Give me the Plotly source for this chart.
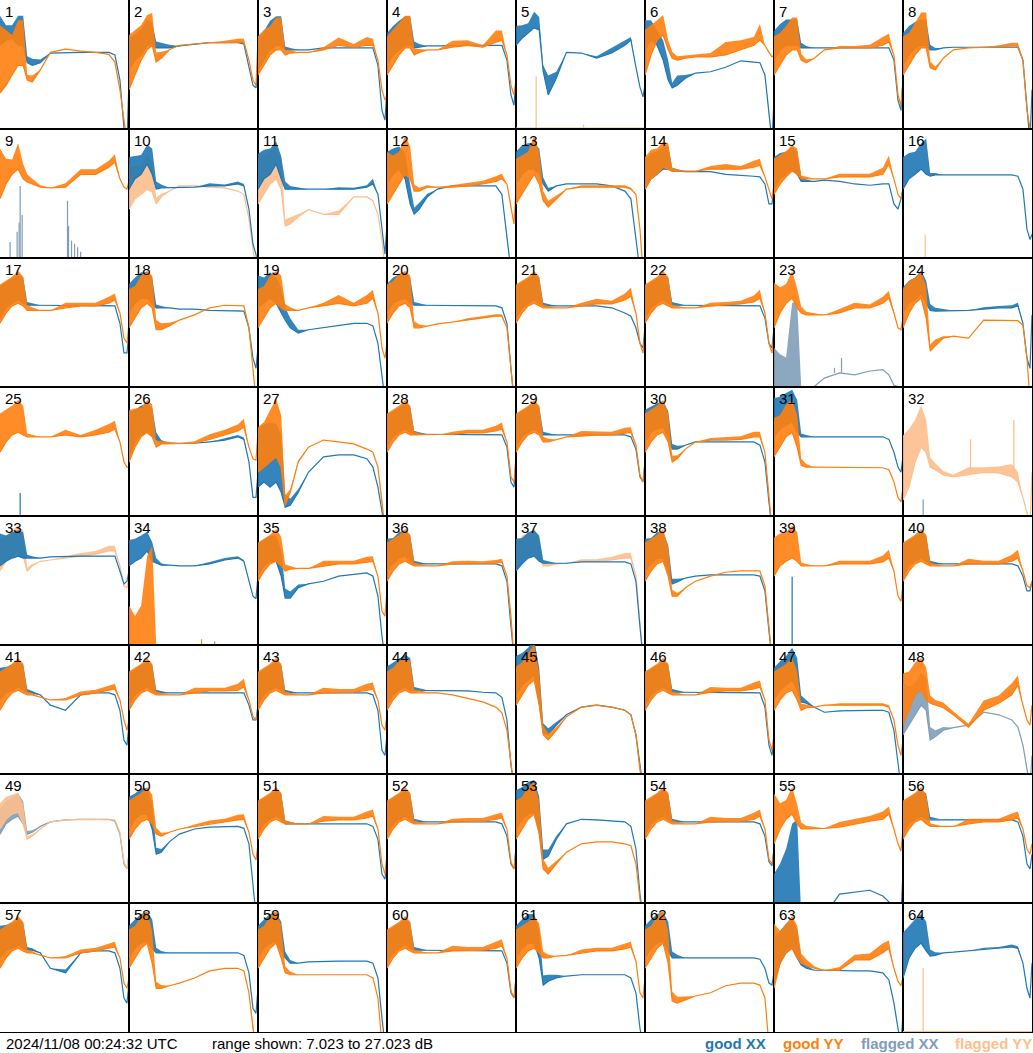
import plotly.graph_objects as go
from plotly.subplots import make_subplots

# ---------------- data ----------------
channel = [0, 6, 12, 18, 23, 27, 32, 40, 50, 65, 80, 95, 108, 114, 119, 123, 126, 128]
flagged_xx = [9, 23, 32, 48, 49]
flagged_yy = [5, 10, 11, 16, 32, 33, 37, 49, 64]
db_min, db_max = 7.023, 27.023
timestamp = "2024/11/08 00:24:32 UTC"
legend_labels = ["good XX", "good YY", "flagged XX", "flagged YY"]

# each curve: level (dB, lower envelope), n = extra height of the noise band (dB), s = spikes (channel, dB)
XX01 = [20.0, 20.8, 21.1, 20.0, 20.0, 17.3, 16.9, 17.3, 18.8, 18.9, 18.9, 18.9, 18.9, 18.5, 14.6, 7.2, 5.0, 14.6]
XX01n = [4.6, 2.3, 2.0, 4.6, 4.6, 1.0, 1.0, 0.5, 0, 0, 0, 0, 0, 0, 0, 0, 0, 0]
YY01 = [12.6, 13.8, 15.4, 16.9, 16.9, 14.6, 14.3, 16.2, 18.9, 19.4, 19.1, 18.9, 18.6, 17.4, 13.1, 7.6, 5.0, 5.0]
YY01n = [10.5, 8.5, 6.2, 7.0, 7.0, 0.8, 1.0, 0, 0, 0, 0, 0, 0, 0, 0, 0, 0, 0]

XX02 = [16.2, 17.7, 18.5, 20.0, 20.0, 19.6, 19.6, 19.6, 19.9, 20.2, 20.4, 20.4, 20.4, 20.2, 16.9, 13.8, 13.4, 16.2]
XX02n = [5.0, 4.0, 4.0, 4.0, 3.5, 1.0, 0.8, 0.5, 0, 0, 0, 0, 0, 0, 0, 0, 0, 0]
YY02 = [13.1, 15.4, 17.7, 19.3, 20.0, 17.4, 18.0, 19.3, 20.0, 20.2, 20.4, 20.4, 20.5, 20.5, 17.7, 14.6, 13.8, 20.8]
YY02n = [8.5, 7.0, 5.4, 5.4, 5.0, 1.5, 1.0, 0, 0, 0, 0, 0.3, 0.5, 0.5, 0, 0, 0, 0]

XX03 = [16.2, 17.7, 19.3, 20.0, 20.0, 19.3, 19.3, 19.3, 19.3, 19.6, 19.6, 19.6, 19.6, 19.6, 16.9, 9.9, 8.4, 13.1]
XX03n = [5.0, 4.5, 4.5, 4.5, 4.5, 0.5, 0.3, 0, 0, 0, 0, 0, 0, 0, 0, 0, 0, 0]
YY03 = [15.4, 16.9, 18.5, 19.3, 19.3, 18.5, 18.8, 18.9, 18.9, 19.3, 20.0, 19.7, 20.0, 20.0, 17.7, 13.1, 11.5, 12.3]
YY03n = [6.0, 5.5, 4.5, 5.0, 5.0, 0.8, 0.5, 0, 0, 0.4, 1.2, 0.5, 1.3, 1.0, 0, 0, 0, 0]

XX04 = [16.9, 18.5, 19.3, 20.0, 20.0, 19.6, 19.7, 19.9, 19.9, 20.0, 20.0, 20.0, 20.0, 20.0, 17.7, 12.3, 10.7, 14.6]
XX04n = [5.0, 4.5, 4.5, 4.5, 4.5, 1.0, 0.5, 0, 0, 0, 0, 0, 0, 0, 0, 0, 0, 0]
YY04 = [15.4, 16.9, 18.5, 19.6, 19.6, 18.5, 18.9, 19.3, 19.3, 19.7, 20.0, 19.7, 20.5, 20.8, 18.5, 13.8, 12.3, 14.6]
YY04n = [6.0, 5.5, 5.0, 5.0, 5.0, 1.0, 0.5, 0, 0, 1.0, 0.8, 0.3, 1.8, 1.5, 0, 0, 0, 0]

XX05 = [20.0, 21.1, 21.9, 22.7, 22.4, 15.9, 12.3, 14.9, 18.9, 18.8, 18.0, 18.8, 20.0, 20.8, 16.6, 13.5, 12.0, 13.8]
XX05n = [3.0, 2.0, 1.5, 2.5, 2.0, 1.0, 3.0, 1.0, 0, 0, 0.3, 0.8, 0.8, 0.5, 0, 0, 0, 0]
YY05 = [7.15, 7.15, 7.15, 7.15, 7.15, 7.15, 7.15, 7.15, 7.15, 7.15, 7.15, 7.15, 7.15, 7.15, 7.15, 7.15, 7.15, 7.15]
YY05n = [0] * 18
YY05s = [(20, 15.2), (67, 7.7)]

XX06 = [19.3, 20.8, 20.0, 17.7, 14.6, 13.4, 13.8, 14.9, 15.7, 15.9, 16.6, 17.6, 17.4, 17.3, 15.4, 9.9, 5.0, 11.5]
XX06n = [4.6, 3.1, 2.3, 3.1, 3.1, 0.8, 1.5, 0.5, 0, 0, 0, 0, 0, 0, 0, 0, 0, 0]
YY06 = [15.4, 18.5, 20.8, 21.6, 19.3, 18.0, 17.7, 18.0, 18.2, 18.2, 18.5, 19.3, 20.0, 20.8, 20.0, 18.9, 18.2, 18.5]
YY06n = [7.0, 4.6, 3.1, 3.1, 1.5, 1.0, 0.6, 0.4, 0.4, 0.6, 2.0, 1.5, 1.3, 2.5, 0, 0, 0, 0]

XX07 = [17.7, 19.3, 20.0, 20.0, 20.0, 19.6, 19.6, 19.6, 19.6, 19.6, 19.6, 19.6, 19.6, 19.6, 17.7, 11.5, 9.9, 14.6]
XX07n = [4.5, 4.0, 4.0, 4.0, 4.0, 0.8, 0.3, 0, 0, 0, 0, 0, 0, 0, 0, 0, 0, 0]
YY07 = [15.4, 16.9, 18.5, 19.3, 19.3, 17.7, 17.3, 18.0, 19.3, 19.6, 19.6, 19.6, 20.0, 20.5, 18.5, 12.3, 10.7, 14.6]
YY07n = [6.0, 5.0, 4.5, 5.0, 5.0, 1.0, 0.5, 0, 0, 0.3, 0.3, 0.5, 1.3, 1.3, 0, 0, 0, 0]

XX08 = [16.9, 18.5, 19.6, 20.0, 20.0, 19.3, 19.3, 19.6, 19.7, 19.7, 19.7, 19.7, 19.7, 19.7, 17.7, 9.9, 5.0, 13.1]
XX08n = [5.0, 4.5, 4.0, 4.0, 4.0, 0.8, 0.3, 0, 0, 0, 0, 0, 0, 0, 0, 0, 0, 0]
YY08 = [15.4, 16.9, 18.5, 19.6, 19.6, 16.5, 16.2, 18.0, 19.3, 19.6, 19.7, 19.7, 19.9, 19.9, 17.7, 9.9, 7.2, 5.0]
YY08n = [6.0, 5.0, 5.0, 5.5, 5.5, 1.0, 0.5, 0, 0, 0, 0, 0.3, 0.5, 0.5, 0, 0, 0, 0]

XX09 = [7.1] * 18
XX09n = [0] * 18
XX09s = [(10, 9.5), (17, 11.1), (19, 12.5), (20, 18.2), (22, 13.7), (67, 15.9), (68, 12.0), (71, 9.7), (74, 9.2), (77, 8.7), (80, 8.0)]
YY09 = [16.2, 18.5, 20.0, 20.8, 19.3, 18.8, 18.5, 18.0, 17.9, 18.0, 20.0, 20.0, 21.1, 21.9, 19.3, 18.0, 17.7, 19.0]
YY09n = [7.8, 3.9, 2.3, 4.0, 2.3, 1.2, 0.8, 0.3, 0, 0.6, 0.8, 0.8, 1.0, 1.2, 0, 0, 0, 0]

XX10 = [17.7, 19.3, 20.0, 21.6, 20.0, 17.7, 17.9, 17.9, 18.0, 18.0, 18.2, 18.2, 18.5, 18.2, 14.6, 9.2, 7.6, 5.0]
XX10n = [5.0, 3.5, 3.0, 3.0, 4.0, 1.2, 0.5, 0, 0, 0, 0.4, 0.2, 0.4, 0.3, 0, 0, 0, 0]
YY10 = [14.6, 16.2, 16.9, 17.7, 17.3, 15.4, 16.5, 17.4, 18.2, 18.2, 18.0, 17.9, 17.4, 16.9, 13.1, 8.4, 5.0, 5.0]
YY10n = [7.0, 5.0, 4.5, 5.5, 4.5, 1.0, 0.5, 0, 0, 0, 0, 0, 0, 0, 0, 0, 0, 0]

XX11 = [17.7, 19.3, 20.0, 21.6, 19.3, 17.7, 17.7, 17.7, 17.7, 17.7, 17.7, 17.7, 18.0, 18.5, 16.9, 11.5, 7.6, 12.3]
XX11n = [5.5, 4.5, 4.0, 3.5, 3.5, 1.2, 0.5, 0.3, 0, 0, 0.3, 0.2, 0.3, 0.8, 0, 0, 0, 0]
YY11 = [15.4, 16.9, 18.5, 19.3, 17.7, 12.0, 12.3, 13.4, 14.5, 13.8, 13.8, 16.5, 16.5, 15.9, 13.8, 9.9, 5.0, 5.0]
YY11n = [7.0, 6.0, 5.0, 5.5, 5.0, 1.0, 1.0, 0.5, 0, 0, 0.6, 0, 0, 0, 0, 0, 0, 0]

XX12 = [18.5, 20.0, 20.8, 19.3, 15.4, 13.8, 14.6, 16.5, 17.7, 18.2, 18.2, 18.2, 18.2, 16.9, 9.9, 5.0, 5.0, 5.0]
XX12n = [5.0, 4.0, 3.5, 4.0, 3.0, 1.0, 1.0, 0.5, 0, 0, 0, 0, 0, 0, 0, 0, 0, 0]
YY12 = [15.4, 16.9, 18.5, 20.0, 19.3, 17.4, 17.4, 18.0, 18.0, 18.0, 18.2, 18.5, 18.9, 19.3, 18.5, 14.6, 12.3, 17.7]
YY12n = [8.0, 6.0, 5.0, 6.0, 5.0, 1.0, 0.5, 0.3, 0, 0.3, 0.5, 0.5, 0.8, 0.8, 0, 0, 0, 0]

XX13 = [18.5, 20.0, 20.8, 20.8, 20.0, 18.5, 17.4, 18.2, 18.5, 18.5, 18.5, 18.2, 17.4, 16.2, 9.9, 5.0, 5.0, 5.0]
XX13n = [5.0, 4.5, 4.0, 4.0, 4.0, 1.0, 0.5, 0, 0, 0, 0, 0, 0, 0, 0, 0, 0, 0]
YY13 = [15.4, 16.9, 18.5, 20.0, 18.5, 15.9, 14.9, 16.2, 17.7, 18.0, 18.0, 18.0, 18.0, 17.7, 16.9, 11.5, 5.0, 5.0]
YY13n = [7.0, 6.0, 5.0, 6.0, 5.0, 1.5, 1.0, 0.5, 0, 0.3, 0.3, 0.3, 0.3, 0.2, 0, 0, 0, 0]

XX14 = [17.7, 19.3, 20.0, 20.8, 20.8, 20.5, 20.5, 20.4, 20.4, 20.4, 20.0, 19.9, 19.7, 19.6, 18.5, 15.4, 15.4, 17.7]
XX14n = [4.5, 4.0, 3.5, 3.5, 3.5, 0.5, 0.3, 0, 0, 0, 0, 0, 0, 0, 0, 0, 0, 0]
YY14 = [17.7, 19.3, 20.0, 21.1, 20.8, 20.5, 20.5, 20.5, 20.5, 20.8, 20.8, 20.8, 21.1, 21.4, 19.6, 17.7, 16.2, 18.5]
YY14n = [5.0, 4.5, 4.0, 4.0, 4.0, 0.5, 0.3, 0, 0, 0.5, 0.8, 0.5, 1.0, 1.0, 0, 0, 0, 0]

XX15 = [17.7, 19.3, 20.0, 20.8, 20.0, 18.9, 18.9, 18.9, 19.1, 18.9, 18.5, 18.3, 18.5, 18.5, 15.4, 14.6, 16.2, 17.7]
XX15n = [5.0, 4.0, 3.5, 3.5, 3.5, 0.8, 0.3, 0, 0, 0, 0, 0, 0, 0, 0, 0, 0, 0]
YY15 = [16.9, 18.5, 19.6, 20.5, 20.0, 19.3, 19.3, 19.3, 19.3, 19.6, 19.6, 19.6, 20.0, 21.6, 19.3, 16.9, 16.2, 17.7]
YY15n = [5.5, 4.5, 4.0, 4.0, 4.0, 0.5, 0.3, 0, 0, 0.5, 0.5, 0.5, 1.0, 1.3, 0, 0, 0, 0]

XX16 = [17.7, 19.3, 20.0, 20.8, 20.0, 19.7, 19.9, 19.9, 19.9, 19.9, 19.9, 19.9, 19.9, 19.7, 17.7, 11.5, 9.9, 10.7]
XX16n = [5.0, 4.0, 3.5, 4.0, 5.5, 0.5, 0.3, 0, 0, 0, 0, 0, 0, 0, 0, 0, 0, 0]
YY16 = [7.1] * 18
YY16n = [0] * 18
YY16s = [(22, 10.7)]

XX17 = [17.7, 19.3, 20.0, 20.5, 20.0, 19.7, 19.7, 19.7, 19.7, 19.7, 19.7, 19.7, 19.7, 19.6, 16.9, 12.3, 12.3, 15.4]
XX17n = [5.0, 4.0, 4.0, 4.0, 4.0, 0.5, 0.3, 0, 0, 0, 0, 0, 0, 0, 0, 0, 0, 0]
YY17 = [16.9, 18.5, 19.6, 20.0, 19.6, 18.9, 18.9, 18.9, 18.9, 19.3, 19.6, 19.6, 20.0, 20.5, 18.5, 14.6, 13.8, 16.9]
YY17n = [6.0, 5.0, 4.5, 5.0, 4.5, 0.8, 0.5, 0, 0, 0.8, 0.5, 0.5, 1.0, 1.0, 0, 0, 0, 0]

XX18 = [18.5, 20.0, 20.8, 20.8, 20.0, 19.3, 19.3, 19.3, 19.1, 19.1, 18.9, 18.9, 18.9, 18.8, 16.2, 11.5, 9.9, 13.1]
XX18n = [4.5, 4.0, 4.0, 4.0, 4.0, 0.5, 0.3, 0, 0, 0, 0, 0, 0, 0, 0, 0, 0, 0]
YY18 = [16.2, 17.7, 19.3, 20.0, 19.3, 15.9, 15.9, 16.5, 17.4, 18.2, 19.3, 19.7, 19.7, 19.6, 16.2, 9.9, 5.0, 5.0]
YY18n = [6.0, 5.0, 5.0, 5.0, 5.0, 1.5, 1.0, 0.5, 0, 0, 0, 0, 0, 0, 0, 0, 0, 0]

XX19 = [19.3, 20.0, 20.8, 20.0, 18.5, 17.4, 16.2, 15.4, 15.9, 16.2, 16.5, 16.9, 16.9, 16.5, 13.8, 8.4, 5.0, 5.0]
XX19n = [5.0, 4.0, 4.0, 4.0, 4.0, 2.0, 1.5, 0.5, 0, 0, 0, 0, 0, 0, 0, 0, 0, 0]
YY19 = [16.2, 17.7, 19.3, 20.0, 19.3, 18.9, 18.9, 18.9, 19.3, 19.6, 20.0, 19.6, 20.0, 20.8, 18.5, 13.1, 11.5, 13.8]
YY19n = [6.0, 5.0, 5.0, 5.0, 5.0, 1.0, 0.5, 0, 0, 0.5, 1.3, 0.5, 1.3, 1.3, 0, 0, 0, 0]

XX20 = [18.5, 20.0, 20.5, 20.8, 20.0, 19.7, 19.7, 19.7, 19.7, 19.7, 19.6, 19.6, 19.6, 19.3, 16.9, 9.9, 5.0, 5.0]
XX20n = [4.5, 4.0, 4.0, 4.0, 4.0, 0.5, 0.3, 0, 0, 0, 0, 0, 0, 0, 0, 0, 0, 0]
YY20 = [16.9, 18.5, 19.6, 20.0, 19.3, 16.2, 16.2, 16.5, 16.8, 17.1, 17.4, 17.7, 18.0, 18.0, 16.2, 9.9, 5.0, 5.0]
YY20n = [6.0, 5.0, 5.0, 5.0, 5.0, 1.0, 0.5, 0, 0, 0, 0.3, 0.3, 0.3, 0.3, 0, 0, 0, 0]

XX21 = [17.7, 19.3, 20.0, 20.5, 20.0, 19.6, 19.6, 19.6, 19.6, 19.6, 19.6, 19.3, 18.5, 18.0, 16.2, 13.8, 13.1, 16.2]
XX21n = [5.0, 4.0, 4.0, 4.0, 4.0, 0.5, 0.3, 0, 0, 0, 0, 0, 0, 0, 0, 0, 0, 0]
YY21 = [16.9, 18.5, 19.6, 20.0, 19.6, 19.3, 19.3, 19.3, 19.3, 19.6, 19.9, 19.9, 20.5, 21.1, 18.5, 13.8, 12.3, 15.4]
YY21n = [6.0, 5.0, 4.5, 5.0, 4.5, 0.5, 0.3, 0, 0, 0.5, 0.8, 0.5, 1.0, 1.3, 0, 0, 0, 0]

XX22 = [17.7, 19.3, 20.0, 20.5, 20.0, 19.7, 19.7, 19.7, 19.7, 19.7, 19.7, 19.7, 19.7, 19.6, 17.7, 13.8, 13.1, 16.2]
XX22n = [5.0, 4.0, 4.0, 4.0, 4.0, 0.5, 0.3, 0, 0, 0, 0, 0, 0, 0, 0, 0, 0, 0]
YY22 = [16.9, 18.5, 19.6, 20.0, 19.6, 19.3, 19.3, 19.3, 19.3, 19.6, 19.7, 19.9, 20.2, 20.8, 18.5, 13.8, 12.3, 15.4]
YY22n = [6.0, 5.0, 4.5, 5.0, 4.5, 0.5, 0.3, 0, 0, 0.5, 0.5, 0.5, 1.0, 1.3, 0, 0, 0, 0]

XX23 = [7.1, 7.1, 7.1, 7.1, 7.1, 7.1, 7.1, 7.1, 8.4, 9.2, 8.9, 9.5, 9.7, 8.9, 7.3, 7.1, 7.1, 7.1]
XX23n = [6.0, 5.0, 4.5, 13.0, 13.0, 0, 0, 0, 0, 0, 0, 0, 0, 0, 0, 0, 0, 0]
XX23s = [(60, 10.0), (67, 11.5)]
YY23 = [16.2, 18.5, 20.0, 20.8, 19.3, 18.5, 18.2, 18.2, 18.2, 18.5, 19.3, 19.3, 20.0, 20.8, 18.5, 16.2, 15.9, 17.7]
YY23n = [7.0, 4.0, 3.0, 4.2, 3.0, 1.0, 0.5, 0.3, 0, 0.6, 0.8, 0.5, 1.0, 1.1, 0, 0, 0, 0]

XX24 = [18.5, 20.0, 20.5, 21.6, 20.0, 18.9, 18.8, 18.8, 18.9, 18.9, 19.1, 19.3, 19.3, 19.6, 16.9, 11.5, 9.9, 18.2]
XX24n = [4.0, 3.5, 3.5, 3.5, 3.5, 1.0, 0.5, 0.3, 0, 0, 0.3, 0.3, 0.4, 0.5, 0, 0, 0, 0]
YY24 = [16.2, 18.5, 20.0, 20.8, 17.7, 12.6, 13.4, 14.6, 14.9, 14.6, 17.4, 17.4, 17.4, 17.3, 16.6, 11.5, 5.0, 5.0]
YY24n = [6.0, 5.0, 4.0, 4.0, 5.0, 1.0, 1.0, 0.3, 0, 0, 0, 0, 0, 0, 0, 0, 0, 0]

XX25 = [5.0] * 18
XX25n = [0] * 18
XX25s = [(20, 10.6)]
YY25 = [16.9, 18.5, 19.6, 20.0, 19.6, 19.3, 19.3, 19.3, 19.3, 19.6, 19.3, 19.6, 20.0, 20.5, 18.5, 15.4, 14.6, 14.6]
YY25n = [6.0, 5.0, 4.5, 5.0, 4.5, 0.5, 0.3, 0, 0, 0.8, 0.3, 0.8, 1.3, 1.3, 0, 0, 0, 0]

XX26 = [16.2, 18.5, 19.6, 20.0, 19.3, 18.8, 18.3, 18.3, 18.3, 18.3, 18.5, 18.8, 19.3, 18.9, 15.4, 9.9, 9.9, 13.8]
XX26n = [7.0, 5.0, 4.5, 4.5, 4.5, 1.2, 0.5, 0, 0, 0, 0, 0.3, 0.3, 0.3, 0, 0, 0, 0]
YY26 = [15.4, 17.7, 19.3, 20.0, 19.3, 17.7, 18.2, 18.2, 18.3, 18.3, 18.9, 19.6, 20.2, 20.8, 17.7, 15.9, 15.7, 20.0]
YY26n = [8.0, 6.0, 4.5, 5.0, 5.0, 1.0, 0.5, 0.3, 0, 0.3, 0.8, 0.8, 1.0, 1.3, 0, 0, 0, 0]

XX27 = [11.5, 12.3, 11.5, 12.3, 10.7, 8.4, 8.7, 10.7, 13.8, 16.2, 16.5, 16.5, 15.9, 14.6, 11.5, 7.6, 5.0, 5.0]
XX27n = [9.0, 9.0, 10.0, 9.0, 9.0, 2.0, 1.0, 0.5, 0, 0, 0, 0, 0, 0, 0, 0, 0, 0]
YY27 = [13.8, 14.6, 15.4, 16.2, 14.6, 8.7, 10.7, 15.4, 17.7, 18.8, 18.5, 18.2, 17.4, 16.9, 14.6, 9.9, 5.0, 5.0]
YY27n = [7.0, 7.0, 8.0, 9.0, 8.0, 1.5, 0.5, 0.3, 0, 0, 0, 0, 0, 0, 0, 0, 0, 0]

XX28 = [17.7, 19.3, 20.0, 20.5, 20.0, 19.7, 19.7, 19.7, 19.7, 19.7, 19.7, 19.7, 19.7, 19.6, 17.7, 12.3, 11.5, 15.4]
XX28n = [5.0, 4.0, 4.0, 4.0, 4.0, 0.5, 0.3, 0, 0, 0, 0, 0, 0, 0, 0, 0, 0, 0]
YY28 = [16.9, 18.5, 19.6, 20.0, 19.6, 19.6, 19.6, 19.6, 19.6, 19.7, 19.9, 19.9, 20.2, 20.5, 18.5, 13.1, 12.3, 16.2]
YY28n = [6.0, 5.0, 4.5, 5.0, 4.5, 0.5, 0.3, 0, 0, 0.4, 0.5, 0.5, 0.8, 1.0, 0, 0, 0, 0]

XX29 = [17.7, 19.3, 20.0, 20.5, 20.0, 19.6, 19.6, 19.6, 19.6, 19.6, 19.6, 19.6, 19.6, 19.3, 17.4, 13.1, 12.3, 15.4]
XX29n = [5.0, 4.0, 4.0, 4.0, 4.0, 0.5, 0.3, 0, 0, 0, 0, 0, 0, 0, 0, 0, 0, 0]
YY29 = [16.9, 18.5, 19.6, 20.0, 19.6, 18.5, 18.5, 18.9, 19.3, 19.4, 19.6, 19.6, 19.9, 20.0, 18.0, 13.4, 12.3, 15.4]
YY29n = [6.0, 5.0, 4.5, 5.0, 4.5, 0.8, 0.5, 0, 0, 0.8, 0.5, 0.5, 0.8, 0.8, 0, 0, 0, 0]

XX30 = [18.5, 20.0, 20.5, 20.8, 19.3, 17.4, 17.4, 18.0, 18.5, 18.5, 18.5, 18.5, 18.5, 18.0, 15.4, 9.2, 5.0, 5.0]
XX30n = [5.0, 4.0, 4.0, 4.0, 4.0, 0.8, 0.5, 0, 0, 0, 0, 0, 0, 0, 0, 0, 0, 0]
YY30 = [16.9, 18.5, 19.6, 20.0, 18.5, 15.4, 15.9, 17.4, 18.5, 18.8, 18.8, 18.9, 19.3, 19.3, 16.9, 9.9, 5.0, 5.0]
YY30n = [6.0, 5.0, 4.5, 5.0, 4.5, 1.0, 0.5, 0, 0, 0.3, 0.5, 0.5, 0.8, 0.8, 0, 0, 0, 0]

XX31 = [19.3, 20.5, 21.1, 21.6, 20.0, 19.3, 19.3, 19.3, 19.3, 19.3, 19.3, 19.3, 19.3, 18.9, 16.9, 14.6, 13.8, 16.2]
XX31n = [6.0, 5.0, 5.0, 5.0, 5.0, 0.5, 0.3, 0, 0, 0, 0, 0, 0, 0, 0, 0, 0, 0]
YY31 = [16.2, 17.7, 19.3, 20.0, 17.7, 14.9, 14.6, 14.6, 14.6, 14.6, 14.6, 14.6, 14.5, 14.2, 12.3, 9.9, 9.2, 11.5]
YY31n = [6.0, 5.0, 5.0, 5.0, 5.0, 1.0, 0.5, 0, 0, 0, 0, 0, 0, 0, 0, 0, 0, 0]

XX32 = [7.1] * 18
XX32n = [0] * 18
XX32s = [(20, 9.6)]
YY32 = [9.5, 11.5, 15.4, 17.7, 16.9, 14.6, 14.2, 13.4, 13.1, 13.4, 13.8, 13.7, 13.1, 12.3, 9.9, 7.6, 5.0, 13.8]
YY32n = [10.0, 9.0, 6.5, 6.5, 5.0, 1.5, 1.0, 0.6, 0.3, 1.2, 0.8, 1.0, 2.0, 1.5, 0, 0, 0, 0]
YY32s = [(67, 18.9), (110, 21.9)]

XX33 = [19.3, 20.0, 20.5, 20.8, 20.5, 20.5, 20.5, 20.5, 20.7, 20.8, 20.8, 20.8, 20.8, 20.8, 18.5, 16.5, 16.9, 18.5]
XX33n = [5.0, 4.0, 4.0, 4.0, 4.0, 0.5, 0.3, 0, 0, 0, 0, 0, 0, 0, 0, 0, 0, 0]
YY33 = [18.5, 20.0, 20.8, 21.6, 20.8, 18.5, 19.3, 20.0, 20.2, 20.5, 20.8, 21.1, 21.6, 21.6, 19.3, 16.2, 15.9, 17.7]
YY33n = [5.0, 4.0, 4.0, 4.0, 4.0, 0.5, 0.3, 0, 0, 0.3, 0.5, 0.5, 0.8, 0.8, 0, 0, 0, 0]

XX34 = [19.3, 20.0, 20.5, 21.6, 20.0, 19.7, 19.4, 19.4, 19.3, 19.3, 19.6, 20.2, 20.5, 20.0, 16.9, 14.6, 14.2, 17.7]
XX34n = [4.0, 3.5, 3.5, 3.0, 3.0, 0.8, 0.3, 0, 0, 0, 0.3, 0.3, 0.3, 0.2, 0, 0, 0, 0]
YY34 = [7.1] * 18
YY34n = [6.0, 4.4, 6.0, 13.7, 15.3, 0, 0, 0, 0, 0, 0, 0, 0, 0, 0, 0, 0, 0]
YY34s = [(72, 7.9), (85, 7.6)]

XX35 = [17.7, 19.3, 20.0, 20.0, 17.7, 14.3, 14.3, 15.9, 16.5, 16.9, 17.7, 18.0, 18.2, 17.7, 14.6, 8.4, 5.0, 5.0]
XX35n = [5.0, 4.0, 4.0, 4.0, 4.0, 1.5, 1.0, 0.5, 0, 0, 0, 0, 0, 0, 0, 0, 0, 0]
YY35 = [16.9, 18.5, 19.6, 20.0, 19.3, 18.5, 18.8, 18.9, 18.9, 19.3, 19.6, 19.6, 19.9, 20.0, 17.7, 12.3, 11.5, 15.4]
YY35n = [6.0, 5.0, 4.5, 5.0, 4.5, 1.0, 0.5, 0, 0, 0.8, 0.5, 0.5, 0.8, 0.8, 0, 0, 0, 0]

XX36 = [18.5, 19.6, 20.5, 20.8, 20.0, 19.6, 19.6, 19.6, 19.6, 19.6, 19.6, 19.6, 19.6, 19.3, 16.9, 9.9, 5.0, 5.0]
XX36n = [5.0, 4.0, 4.0, 4.0, 4.0, 0.5, 0.3, 0, 0, 0, 0, 0, 0, 0, 0, 0, 0, 0]
YY36 = [16.9, 18.5, 19.6, 20.0, 19.6, 19.3, 19.3, 19.3, 19.3, 19.6, 19.6, 19.6, 19.7, 19.9, 17.7, 11.5, 5.0, 5.0]
YY36n = [6.0, 5.0, 4.5, 5.0, 4.5, 0.5, 0.3, 0, 0, 0.4, 0.5, 0.4, 0.5, 0.5, 0, 0, 0, 0]

XX37 = [18.5, 19.6, 20.5, 20.8, 20.0, 19.7, 19.7, 19.7, 19.7, 19.9, 19.9, 19.9, 19.9, 19.6, 16.9, 9.9, 5.0, 5.0]
XX37n = [5.0, 4.0, 4.0, 4.0, 4.0, 0.5, 0.3, 0, 0, 0, 0, 0, 0, 0, 0, 0, 0, 0]
YY37 = [18.5, 20.0, 20.8, 21.6, 20.5, 19.3, 19.3, 19.6, 19.7, 20.0, 20.0, 20.2, 20.5, 20.5, 17.7, 10.7, 5.0, 5.0]
YY37n = [4.0, 4.0, 3.5, 3.5, 3.0, 0.5, 0.3, 0, 0, 0.3, 0.3, 0.5, 0.8, 0.8, 0, 0, 0, 0]

XX38 = [18.5, 19.6, 20.5, 20.5, 18.5, 16.5, 16.8, 17.4, 17.7, 17.9, 17.9, 17.9, 17.9, 17.7, 15.4, 9.2, 5.0, 5.0]
XX38n = [5.0, 4.0, 4.0, 4.0, 4.0, 0.8, 0.5, 0, 0, 0, 0, 0, 0, 0, 0, 0, 0, 0]
YY38 = [16.9, 18.5, 19.6, 20.0, 17.7, 14.6, 14.6, 15.9, 16.9, 17.7, 18.3, 18.5, 18.5, 18.5, 16.2, 9.9, 5.0, 5.0]
YY38n = [6.0, 5.0, 4.5, 5.0, 4.5, 1.0, 0.5, 0, 0, 0, 0, 0, 0, 0, 0, 0, 0, 0]

XX39 = [5.0] * 18
XX39n = [0] * 18
XX39s = [(18, 17.6)]
YY39 = [17.7, 19.3, 20.0, 20.5, 20.0, 19.3, 19.3, 19.3, 19.3, 19.6, 19.6, 19.6, 19.9, 20.5, 18.5, 14.6, 13.8, 16.2]
YY39n = [6.0, 5.0, 4.5, 5.0, 4.5, 0.5, 0.3, 0, 0, 0.5, 0.5, 0.5, 1.0, 1.3, 0, 0, 0, 0]

XX40 = [17.7, 19.3, 20.0, 20.5, 20.0, 19.6, 19.6, 19.6, 19.6, 19.6, 19.6, 19.6, 19.6, 19.3, 17.7, 15.4, 15.4, 16.9]
XX40n = [5.0, 4.0, 4.0, 4.0, 4.0, 0.5, 0.3, 0, 0, 0, 0, 0, 0, 0, 0, 0, 0, 0]
YY40 = [16.9, 18.5, 19.6, 20.0, 19.6, 19.3, 19.3, 19.3, 19.3, 19.6, 19.6, 19.6, 20.0, 20.5, 18.5, 16.2, 15.9, 16.9]
YY40n = [6.0, 5.0, 4.5, 5.0, 4.5, 0.5, 0.3, 0, 0, 0.8, 0.5, 0.5, 1.0, 1.3, 0, 0, 0, 0]

XX41 = [18.5, 19.6, 20.0, 20.5, 20.0, 19.7, 19.6, 19.3, 17.7, 16.9, 19.3, 19.6, 19.6, 19.3, 16.9, 12.3, 11.5, 14.6]
XX41n = [5.0, 4.0, 4.0, 4.0, 4.0, 0.5, 0.3, 0, 0, 0, 0, 0, 0, 0, 0, 0, 0, 0]
YY41 = [16.9, 18.5, 19.6, 20.0, 19.6, 19.3, 19.3, 18.9, 18.5, 18.5, 19.3, 19.6, 20.0, 20.2, 18.5, 15.4, 13.8, 15.4]
YY41n = [6.0, 5.0, 4.5, 5.0, 4.5, 0.5, 0.3, 0, 0, 0.3, 0.5, 0.5, 0.8, 0.8, 0, 0, 0, 0]

XX42 = [17.7, 19.3, 20.0, 20.5, 20.0, 19.6, 19.6, 19.6, 19.6, 19.6, 19.6, 19.6, 19.6, 19.6, 17.7, 15.4, 15.4, 17.7]
XX42n = [5.0, 4.0, 4.0, 4.0, 4.0, 0.5, 0.3, 0, 0, 0, 0, 0, 0, 0, 0, 0, 0, 0]
YY42 = [16.9, 18.5, 19.6, 20.0, 19.6, 19.3, 19.3, 19.3, 19.3, 19.6, 19.9, 19.9, 20.0, 20.5, 18.5, 15.9, 15.4, 16.9]
YY42n = [6.0, 5.0, 4.5, 5.0, 4.5, 0.5, 0.3, 0, 0, 0.8, 0.5, 0.5, 1.0, 1.3, 0, 0, 0, 0]

XX43 = [17.7, 19.3, 20.0, 20.5, 20.0, 19.6, 19.6, 19.6, 19.6, 19.6, 19.6, 19.6, 19.6, 19.3, 16.9, 10.7, 9.9, 13.1]
XX43n = [5.0, 4.0, 4.0, 4.0, 4.0, 0.5, 0.3, 0, 0, 0, 0, 0, 0, 0, 0, 0, 0, 0]
YY43 = [16.9, 18.5, 19.6, 20.0, 19.6, 19.3, 19.3, 19.3, 19.3, 19.6, 19.7, 19.7, 20.0, 20.2, 18.5, 14.6, 13.8, 16.2]
YY43n = [6.0, 5.0, 4.5, 5.0, 4.5, 0.5, 0.3, 0, 0, 0.8, 0.5, 0.5, 1.0, 1.0, 0, 0, 0, 0]

XX44 = [17.7, 19.3, 20.0, 20.5, 20.0, 20.0, 20.0, 20.0, 20.0, 20.0, 19.9, 19.7, 19.6, 18.9, 15.4, 8.4, 5.0, 5.0]
XX44n = [6.0, 5.0, 5.0, 5.0, 5.0, 0.5, 0.3, 0, 0, 0, 0, 0, 0, 0, 0, 0, 0, 0]
YY44 = [16.9, 18.5, 19.6, 20.0, 19.6, 19.6, 19.7, 19.7, 19.6, 19.3, 18.8, 18.2, 17.4, 16.5, 13.8, 9.2, 5.0, 5.0]
YY44n = [6.0, 5.0, 5.0, 5.0, 5.0, 0.5, 0.3, 0, 0, 0, 0, 0, 0, 0, 0, 0, 0, 0]

XX45 = [19.3, 20.8, 21.6, 22.4, 18.5, 13.4, 13.1, 14.6, 16.2, 17.4, 17.7, 17.4, 16.9, 16.2, 13.1, 7.6, 5.0, 5.0]
XX45n = [6.0, 5.0, 5.0, 5.5, 5.0, 1.5, 1.0, 0.5, 0, 0, 0, 0, 0, 0, 0, 0, 0, 0]
YY45 = [17.7, 19.3, 20.8, 21.6, 17.7, 13.1, 12.3, 13.8, 15.9, 17.4, 17.7, 17.4, 16.9, 16.2, 13.1, 7.6, 5.0, 5.0]
YY45n = [6.0, 5.0, 5.0, 5.5, 5.0, 1.5, 1.0, 0.5, 0, 0, 0, 0, 0, 0, 0, 0, 0, 0]

XX46 = [17.7, 19.3, 20.0, 20.5, 20.0, 19.7, 19.7, 19.7, 19.7, 19.7, 19.7, 19.7, 19.7, 19.6, 17.4, 11.5, 9.9, 12.3]
XX46n = [5.0, 4.0, 4.0, 4.0, 4.0, 0.5, 0.3, 0, 0, 0, 0, 0, 0, 0, 0, 0, 0, 0]
YY46 = [16.9, 18.5, 19.6, 20.0, 19.6, 19.3, 19.3, 19.3, 19.3, 19.7, 19.9, 19.9, 20.2, 20.5, 18.5, 12.3, 10.7, 13.1]
YY46n = [6.0, 5.0, 4.5, 5.0, 4.5, 0.5, 0.3, 0, 0, 0.8, 0.5, 0.5, 1.0, 1.0, 0, 0, 0, 0]

XX47 = [18.5, 20.0, 20.8, 21.6, 20.0, 18.2, 18.0, 17.4, 16.6, 16.8, 16.9, 16.9, 16.9, 16.6, 13.8, 7.6, 5.0, 5.0]
XX47n = [5.0, 4.5, 4.5, 5.0, 5.0, 1.0, 0.5, 0, 0, 0, 0, 0, 0, 0, 0, 0, 0, 0]
YY47 = [16.9, 18.5, 19.6, 20.0, 18.5, 16.9, 17.3, 17.4, 17.7, 17.7, 17.7, 17.7, 17.7, 17.4, 15.4, 11.5, 9.9, 12.3]
YY47n = [6.0, 5.0, 4.5, 5.0, 4.5, 1.0, 0.5, 0, 0, 0.3, 0.3, 0.3, 0.3, 0.3, 0, 0, 0, 0]

XX48 = [13.1, 14.6, 16.2, 17.7, 16.9, 12.3, 12.8, 13.8, 14.2, 14.6, 16.6, 16.2, 15.4, 14.3, 11.5, 7.6, 5.0, 9.9]
XX48n = [8.0, 6.0, 5.0, 5.0, 5.0, 2.0, 1.0, 0.5, 0, 0, 0, 0, 0, 0, 0, 0, 0, 0]
YY48 = [14.6, 16.9, 19.3, 20.0, 18.5, 18.0, 17.7, 17.3, 16.2, 14.3, 16.9, 18.0, 19.3, 20.8, 17.7, 15.4, 14.6, 17.7]
YY48n = [8.0, 6.0, 5.0, 5.0, 5.0, 1.2, 0.8, 0.8, 0.5, 0.5, 1.5, 1.2, 1.8, 1.5, 0, 0, 0, 0]

XX49 = [17.7, 19.3, 20.0, 20.5, 19.3, 17.7, 18.0, 18.9, 19.6, 19.9, 20.0, 20.0, 20.0, 19.7, 17.7, 13.1, 12.3, 14.6]
XX49n = [4.0, 3.5, 3.5, 3.5, 3.5, 0.5, 0.3, 0, 0, 0, 0, 0, 0, 0, 0, 0, 0, 0]
YY49 = [18.5, 20.0, 20.8, 21.1, 19.3, 16.9, 17.4, 18.5, 19.6, 19.9, 20.0, 20.0, 20.0, 19.9, 18.0, 13.4, 12.3, 14.6]
YY49n = [4.0, 3.5, 3.0, 3.0, 3.0, 0.5, 0.3, 0, 0, 0, 0, 0, 0, 0, 0, 0, 0, 0]

XX50 = [18.5, 20.0, 20.8, 20.8, 18.5, 14.6, 14.9, 16.5, 17.7, 18.5, 18.8, 18.9, 18.9, 18.6, 16.2, 9.9, 5.0, 5.0]
XX50n = [5.0, 4.0, 4.0, 4.0, 4.0, 1.0, 0.5, 0, 0, 0, 0, 0, 0, 0, 0, 0, 0, 0]
YY50 = [16.9, 18.5, 19.6, 20.0, 19.3, 17.7, 17.4, 18.0, 18.5, 18.9, 19.3, 19.6, 19.9, 20.0, 18.0, 14.6, 13.7, 16.2]
YY50n = [6.0, 5.0, 4.5, 5.0, 4.5, 1.0, 0.5, 0, 0, 0.3, 0.5, 0.5, 0.8, 0.8, 0, 0, 0, 0]

XX51 = [17.7, 19.3, 20.0, 20.5, 20.0, 19.3, 19.3, 19.3, 19.3, 19.3, 19.3, 19.3, 19.3, 18.9, 16.9, 11.5, 10.7, 13.8]
XX51n = [5.0, 4.0, 4.0, 4.0, 4.0, 0.5, 0.3, 0, 0, 0, 0, 0, 0, 0, 0, 0, 0, 0]
YY51 = [16.9, 18.5, 19.6, 20.0, 19.6, 19.3, 19.3, 19.3, 19.3, 19.7, 19.9, 19.9, 20.2, 20.5, 18.5, 13.1, 11.5, 14.6]
YY51n = [6.0, 5.0, 4.5, 5.0, 4.5, 0.5, 0.3, 0, 0, 0.8, 0.5, 0.5, 1.0, 1.0, 0, 0, 0, 0]

XX52 = [17.7, 19.3, 20.0, 20.5, 20.0, 19.6, 19.6, 19.6, 19.6, 19.6, 19.6, 19.6, 19.6, 19.3, 17.4, 13.1, 12.3, 15.4]
XX52n = [5.0, 4.0, 4.0, 4.0, 4.0, 0.5, 0.3, 0, 0, 0, 0, 0, 0, 0, 0, 0, 0, 0]
YY52 = [16.9, 18.5, 19.6, 20.0, 19.6, 19.3, 19.3, 19.3, 19.3, 19.6, 19.7, 19.7, 20.0, 20.2, 18.5, 13.4, 12.3, 15.4]
YY52n = [6.0, 5.0, 4.5, 5.0, 4.5, 0.5, 0.3, 0, 0, 0.5, 0.5, 0.5, 0.8, 0.8, 0, 0, 0, 0]

XX53 = [18.5, 20.0, 20.8, 21.1, 18.5, 13.8, 14.3, 16.9, 19.3, 20.0, 19.9, 19.7, 19.6, 18.9, 15.4, 8.4, 5.0, 5.0]
XX53n = [6.0, 5.0, 5.0, 5.0, 5.0, 1.5, 1.0, 0.5, 0, 0, 0, 0, 0, 0, 0, 0, 0, 0]
YY53 = [16.9, 18.5, 20.0, 20.8, 17.7, 12.3, 11.5, 13.1, 14.9, 16.2, 16.5, 16.5, 16.2, 15.9, 13.1, 7.6, 5.0, 5.0]
YY53n = [6.0, 5.0, 5.0, 5.0, 5.0, 1.5, 1.0, 0.5, 0, 0, 0, 0, 0, 0, 0, 0, 0, 0]

XX54 = [17.7, 19.3, 20.0, 20.5, 20.0, 19.6, 19.6, 19.6, 19.6, 19.6, 19.6, 19.6, 19.6, 19.3, 17.4, 13.4, 12.8, 15.4]
XX54n = [5.0, 4.0, 4.0, 4.0, 4.0, 0.5, 0.3, 0, 0, 0, 0, 0, 0, 0, 0, 0, 0, 0]
YY54 = [16.9, 18.5, 19.6, 20.0, 19.6, 19.3, 19.3, 19.3, 19.3, 19.6, 19.7, 19.7, 20.0, 20.5, 18.5, 13.8, 13.1, 15.4]
YY54n = [6.0, 5.0, 4.5, 5.0, 4.5, 0.5, 0.3, 0, 0, 0.8, 0.5, 0.5, 1.0, 1.0, 0, 0, 0, 0]

XX55 = [5.0, 5.0, 5.0, 5.0, 5.0, 5.0, 5.0, 5.0, 5.0, 8.4, 8.7, 9.0, 8.1, 7.2, 5.0, 5.0, 5.0, 12.0]
XX55n = [6.5, 8.1, 10.4, 14.3, 15.0, 0, 0, 0, 0, 0, 0, 0, 0, 0, 0, 0, 0, 0]
YY55 = [16.2, 18.5, 20.0, 20.8, 19.3, 18.5, 18.5, 18.5, 18.6, 18.8, 19.3, 19.7, 20.0, 20.8, 18.5, 16.2, 15.1, 18.5]
YY55n = [7.8, 4.0, 3.0, 4.2, 3.0, 1.0, 0.5, 0.3, 0, 0.8, 0.8, 0.8, 1.2, 1.2, 0, 0, 0, 0]

XX56 = [17.7, 19.3, 20.0, 20.5, 20.0, 19.9, 19.9, 19.9, 19.9, 19.9, 19.9, 19.9, 19.9, 19.6, 17.4, 13.1, 12.3, 14.6]
XX56n = [5.0, 4.0, 4.0, 4.0, 4.0, 0.5, 0.3, 0, 0, 0, 0, 0, 0, 0, 0, 0, 0, 0]
YY56 = [16.9, 18.5, 19.6, 20.0, 19.3, 18.9, 18.9, 18.9, 18.9, 19.3, 19.6, 19.6, 19.9, 20.2, 18.5, 15.4, 14.6, 16.2]
YY56n = [6.0, 5.0, 4.5, 5.0, 4.5, 0.5, 0.3, 0, 0, 0.8, 0.5, 0.5, 1.0, 1.0, 0, 0, 0, 0]

XX57 = [18.5, 19.6, 20.0, 20.5, 20.0, 19.7, 19.7, 19.3, 16.9, 16.2, 19.3, 19.6, 19.6, 19.3, 16.9, 12.3, 11.5, 14.6]
XX57n = [5.0, 4.0, 4.0, 4.0, 4.0, 0.5, 0.3, 0, 0, 0.5, 0, 0, 0, 0, 0, 0, 0, 0]
YY57 = [16.9, 18.5, 19.6, 20.0, 19.6, 19.3, 19.3, 18.9, 18.5, 18.5, 19.3, 19.6, 20.0, 20.2, 18.5, 14.6, 13.8, 15.4]
YY57n = [6.0, 5.0, 4.5, 5.0, 4.5, 0.5, 0.3, 0, 0, 0.3, 0.5, 0.5, 0.8, 0.8, 0, 0, 0, 0]

XX58 = [18.5, 20.0, 20.8, 21.1, 20.0, 19.3, 19.3, 19.3, 19.3, 19.3, 19.3, 19.3, 19.3, 18.9, 16.2, 10.7, 9.9, 13.8]
XX58n = [5.0, 4.5, 4.5, 4.5, 4.5, 0.8, 0.3, 0, 0, 0, 0, 0, 0, 0, 0, 0, 0, 0]
YY58 = [16.9, 18.5, 20.0, 20.8, 17.7, 13.8, 13.8, 14.2, 14.6, 15.4, 16.5, 16.9, 16.9, 16.5, 13.1, 7.6, 5.0, 5.0]
YY58n = [6.0, 5.0, 5.0, 5.0, 5.0, 1.0, 0.5, 0, 0, 0, 0, 0, 0, 0, 0, 0, 0, 0]

XX59 = [18.5, 20.0, 20.8, 21.1, 19.6, 18.5, 17.7, 17.7, 17.9, 18.0, 18.0, 18.0, 18.0, 17.7, 15.4, 9.2, 5.0, 5.0]
XX59n = [5.0, 4.5, 4.5, 4.5, 4.5, 1.0, 0.5, 0, 0, 0, 0, 0, 0, 0, 0, 0, 0, 0]
YY59 = [16.9, 18.5, 20.0, 20.8, 18.5, 16.2, 15.9, 15.9, 15.9, 15.9, 15.9, 15.9, 15.9, 15.4, 12.3, 5.0, 5.0, 5.0]
YY59n = [6.0, 5.0, 5.0, 5.0, 5.0, 1.0, 0.5, 0, 0, 0, 0, 0, 0, 0, 0, 0, 0, 0]

XX60 = [17.7, 19.3, 20.0, 20.5, 20.0, 19.7, 19.7, 19.7, 19.7, 19.7, 19.7, 19.7, 19.7, 19.6, 17.7, 13.1, 12.3, 15.4]
XX60n = [5.0, 4.0, 4.0, 4.0, 4.0, 0.5, 0.3, 0, 0, 0, 0, 0, 0, 0, 0, 0, 0, 0]
YY60 = [16.9, 18.5, 19.6, 20.0, 19.6, 19.3, 19.3, 19.3, 19.3, 19.6, 19.7, 19.7, 20.0, 20.4, 18.5, 13.4, 12.3, 15.4]
YY60n = [6.0, 5.0, 4.5, 5.0, 4.5, 0.5, 0.3, 0, 0, 0.8, 0.5, 0.5, 1.0, 1.0, 0, 0, 0, 0]

XX61 = [18.5, 20.0, 20.8, 20.8, 18.5, 14.3, 14.9, 15.4, 15.7, 15.9, 15.9, 15.9, 15.9, 15.4, 13.1, 7.6, 5.0, 5.0]
XX61n = [5.0, 4.5, 4.5, 4.5, 4.5, 1.5, 1.0, 0.5, 0, 0, 0, 0, 0, 0, 0, 0, 0, 0]
YY61 = [16.9, 18.5, 19.6, 20.0, 19.3, 18.5, 18.5, 18.8, 18.9, 19.3, 19.6, 19.6, 19.9, 20.2, 18.0, 13.1, 12.3, 15.4]
YY61n = [6.0, 5.0, 4.5, 5.0, 4.5, 1.0, 0.5, 0, 0, 0.5, 0.5, 0.5, 0.8, 0.8, 0, 0, 0, 0]

XX62 = [18.5, 20.0, 20.8, 21.1, 19.6, 18.5, 18.5, 18.5, 18.5, 18.5, 18.5, 18.5, 18.5, 18.3, 16.9, 14.6, 14.3, 16.2]
XX62n = [5.0, 4.5, 4.5, 4.5, 4.5, 1.0, 0.5, 0, 0, 0, 0, 0, 0, 0, 0, 0, 0, 0]
YY62 = [16.9, 18.5, 20.0, 20.8, 17.7, 11.8, 11.5, 12.0, 12.6, 13.1, 14.2, 14.6, 14.6, 14.3, 12.3, 5.0, 5.0, 5.0]
YY62n = [6.0, 5.0, 5.0, 5.0, 5.0, 1.5, 1.0, 0.5, 0, 0, 0, 0, 0, 0, 0, 0, 0, 0]

XX63 = [14.6, 17.7, 19.3, 20.0, 18.5, 17.4, 16.9, 16.6, 16.6, 16.5, 16.5, 16.5, 16.2, 15.1, 11.5, 7.6, 5.0, 9.9]
XX63n = [7.0, 5.0, 4.5, 4.5, 4.5, 1.0, 0.5, 0, 0, 0, 0, 0, 0, 0, 0, 0, 0, 0]
YY63 = [13.8, 17.7, 19.3, 20.0, 18.5, 17.7, 17.3, 16.9, 16.6, 16.6, 18.2, 18.2, 19.3, 20.0, 16.9, 14.9, 14.2, 15.4]
YY63n = [10.0, 5.0, 4.5, 5.0, 5.0, 1.5, 1.0, 0.3, 0, 0.5, 0.8, 1.0, 1.5, 1.2, 0, 0, 0, 0]

XX64 = [15.4, 18.5, 20.0, 20.8, 19.6, 18.8, 18.9, 19.3, 19.4, 19.6, 19.9, 20.0, 20.2, 20.0, 17.7, 13.8, 12.3, 17.7]
XX64n = [7.0, 5.0, 4.5, 4.5, 4.5, 1.0, 0.5, 0, 0, 0, 0.2, 0.2, 0.4, 0.3, 0, 0, 0, 0]
YY64 = [7.1] * 18
YY64n = [0] * 18
YY64s = [(20, 16.9)]

# ---------------- figure ----------------
COLORS = {("XX", True): "#1f77b4", ("YY", True): "#ff7f0e",
          ("XX", False): "#7f9db9", ("YY", False): "#fdbf8c"}

fig = make_subplots(rows=8, cols=8, horizontal_spacing=0, vertical_spacing=0)
g = globals()

for k in range(1, 65):
    r, c = (k - 1) // 8 + 1, (k - 1) % 8 + 1
    curves = []
    for pol in ("XX", "YY"):
        good = k not in (flagged_xx if pol == "XX" else flagged_yy)
        curves.append((good, pol))
    curves.sort()
    for good, pol in curves:
        name = f"{pol}{k:02d}"
        lo = g[name]
        nz = g[name + "n"]
        sp = g.get(name + "s", [])
        color = COLORS[(pol, good)]
        if any(nz):
            top = [a + b for a, b in zip(lo, nz)]
            fig.add_trace(go.Scatter(x=channel + channel[::-1], y=top + lo[::-1],
                                     mode="lines", fill="toself", fillcolor=color,
                                     line=dict(width=0, color=color), opacity=0.9,
                                     hoverinfo="skip", showlegend=False), r, c)
        fig.add_trace(go.Scatter(x=channel, y=lo, mode="lines",
                                 line=dict(color=color, width=1.2),
                                 hoverinfo="skip", showlegend=False), r, c)
        if sp:
            xs, ys = [], []
            for ch, v in sp:
                i = min(range(len(channel)), key=lambda j: abs(channel[j] - ch))
                xs += [ch, ch, None]
                ys += [lo[i], v, None]
            fig.add_trace(go.Scatter(x=xs, y=ys, mode="lines",
                                     line=dict(color=color, width=1.2),
                                     hoverinfo="skip", showlegend=False), r, c)

axis_style = dict(showticklabels=False, showgrid=False, zeroline=False,
                  showline=True, mirror=True, linecolor="black", linewidth=1,
                  ticks="", fixedrange=True)
fig.update_xaxes(range=[0, 128], **axis_style)
fig.update_yaxes(range=[db_min, db_max], **axis_style)

annotations = []
for k in range(1, 65):
    ref = "x" if k == 1 else f"x{k}"
    yref = "y" if k == 1 else f"y{k}"
    annotations.append(dict(text=str(k), xref=f"{ref} domain", yref=f"{yref} domain",
                            x=0, y=1, xanchor="left", yanchor="top", xshift=3, yshift=-1,
                            showarrow=False, font=dict(family="Liberation Sans", size=15, color="black")))

bottom_font = dict(family="Liberation Sans", size=15, color="black")
annotations.append(dict(text=timestamp, xref="paper", yref="paper", x=0, y=0,
                        xanchor="left", yanchor="middle", xshift=4, yshift=-11,
                        showarrow=False, font=bottom_font))
annotations.append(dict(text=f"range shown: {db_min:.3f} to {db_max:.3f} dB", xref="paper", yref="paper",
                        x=210 / 1032, y=0, xanchor="left", yanchor="middle", yshift=-11,
                        showarrow=False, font=bottom_font))
legend_x = [703, 781, 859, 953]
legend_col = [COLORS[("XX", True)], COLORS[("YY", True)], COLORS[("XX", False)], COLORS[("YY", False)]]
for lab, lx, lc in zip(legend_labels, legend_x, legend_col):
    annotations.append(dict(text=f"<b>{lab}</b>", xref="paper", yref="paper", x=lx / 1032, y=0,
                            xanchor="left", yanchor="middle", yshift=-11, showarrow=False,
                            font=dict(family="Liberation Sans", size=15, color=lc)))

fig.update_layout(width=1033, height=1053, margin=dict(l=0, r=1, t=0, b=21),
                  paper_bgcolor="white", plot_bgcolor="white", showlegend=False,
                  annotations=annotations)

fig.write_html("out.html", config={"displayModeBar": False},
               post_script="document.body.style.margin='0px';")
